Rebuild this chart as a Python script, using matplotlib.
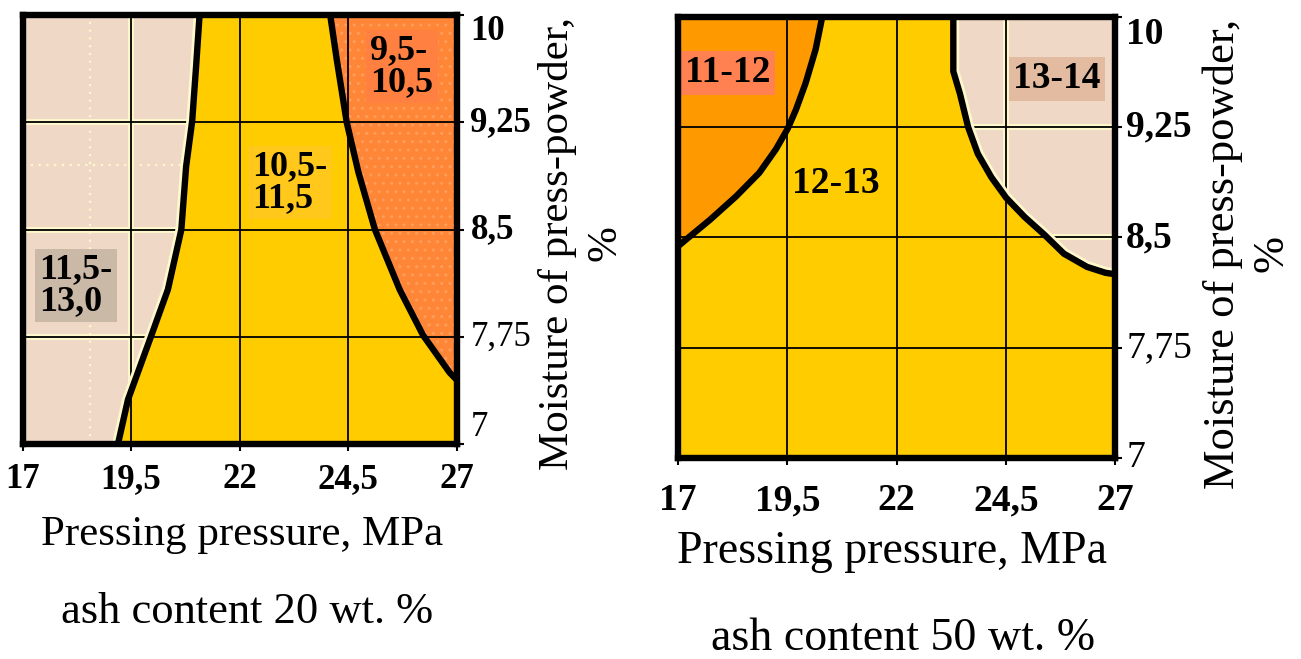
import matplotlib
matplotlib.use("Agg")
import matplotlib.pyplot as plt
from matplotlib.patches import Polygon

plt.rcParams["font.family"] = ["Liberation Serif", "DejaVu Serif"]

# ---- axis scales -------------------------------------------------------
pressure_ticks = [17, 19.5, 22, 24.5, 27]
pressure_labels = ["17", "19,5", "22", "24,5", "27"]
moisture_ticks = [7, 7.75, 8.5, 9.25, 10]
moisture_labels = ["7", "7,75", "8,5", "9,25", "10"]
moisture_bold = [False, False, True, True, True]

# ---- ash content 20 wt.% : region boundaries (pressure MPa, moisture %) --
ash20_low_press = [19.20, 19.43, 19.97, 20.35, 20.66, 20.77, 20.91, 21.00, 21.08]
ash20_low_moist = [7.00, 7.31, 7.76, 8.08, 8.50, 8.94, 9.26, 9.64, 10.00]
ash20_high_press = [24.09, 24.24, 24.47, 24.74, 25.12, 25.69, 26.23, 26.84, 27.00]
ash20_high_moist = [10.00, 9.69, 9.25, 8.90, 8.50, 8.08, 7.76, 7.50, 7.45]
ash20_region_text = ["11,5-\n13,0", "10,5-\n11,5", "9,5-\n10,5"]

# ---- ash content 50 wt.% : region boundaries ----------------------------
ash50_low_press = [20.30, 20.15, 19.92, 19.70, 19.51, 19.24, 18.86, 18.33, 17.73, 17.16, 17.00]
ash50_low_moist = [10.00, 9.78, 9.55, 9.37, 9.24, 9.10, 8.94, 8.78, 8.62, 8.48, 8.44]
ash50_high_press = [23.30, 23.30, 23.45, 23.64, 23.86, 24.17, 24.51, 24.93, 25.38,
                    25.83, 26.36, 26.78, 27.00]
ash50_high_moist = [10.00, 9.63, 9.48, 9.25, 9.07, 8.91, 8.77, 8.64, 8.52,
                    8.39, 8.30, 8.26, 8.25]
ash50_region_text = ["11-12", "12-13", "13-14"]

# ---- colours -------------------------------------------------------------
YELLOW = "#FFCC00"
BEIGE = "#EFD8C6"
CREAM = "#FFF8CC"
ORANGE_20 = "#FF8636"
ORANGE_50 = "#FF9900"

W, H = 1301, 659
fig = plt.figure(figsize=(W / 100, H / 100), dpi=100)


def box(left, top, right, bottom):
    return [left / W, 1 - bottom / H, (right - left) / W, (bottom - top) / H]


def fx(px):
    return px / W


def fy(py):
    return 1 - py / H


def setup_axes(ax, tick_size, xpad, ypad, ylab_va):
    ax.set_xlim(pressure_ticks[0], pressure_ticks[-1])
    ax.set_ylim(moisture_ticks[0], moisture_ticks[-1])
    ax.set_facecolor(YELLOW)
    ax.yaxis.tick_right()
    ax.set_xticks(pressure_ticks)
    ax.set_xticklabels(pressure_labels, fontsize=tick_size, fontweight="bold")
    ax.set_yticks(moisture_ticks)
    ax.set_yticklabels(moisture_labels, fontsize=tick_size)
    for lab, bold, va in zip(ax.get_yticklabels(), moisture_bold, ylab_va):
        lab.set_fontweight("bold" if bold else "normal")
        lab.set_va(va)
    ax.tick_params(axis="x", direction="out", length=5, width=1.5, pad=xpad)
    ax.tick_params(axis="y", direction="out", length=5, width=1.5, pad=ypad)
    for sp in ax.spines.values():
        sp.set_linewidth(4.6)
        sp.set_color("black")
        sp.set_zorder(6)


def grid_lines(ax, beige_patch, extra_dotted=()):
    # cream halo around the grid inside the beige zone
    for x in pressure_ticks[1:-1]:
        ln, = ax.plot([x, x], [7, 10], color=CREAM, lw=4.2, zorder=2.2)
        ln.set_clip_path(beige_patch)
    for y in moisture_ticks[1:-1]:
        ln, = ax.plot([17, 27], [y, y], color=CREAM, lw=4.2, zorder=2.2)
        ln.set_clip_path(beige_patch)
    for kind, v in extra_dotted:
        xs, ys = ([v, v], [7, 10]) if kind == "v" else ([17, 27], [v, v])
        ln, = ax.plot(xs, ys, color=CREAM, lw=1.6, ls=(0, (1, 2.5)), zorder=2.1)
        ln.set_clip_path(beige_patch)
    for x in pressure_ticks[1:-1]:
        ax.axvline(x, color="black", lw=1.3, zorder=3)
    for y in moisture_ticks[1:-1]:
        ax.axhline(y, color="black", lw=1.3, zorder=3)


def boundary(ax, press, moist, halo_clip):
    halo, = ax.plot(press, moist, color=CREAM, lw=8.5, zorder=3.5,
                    solid_joinstyle="round", solid_capstyle="round")
    halo.set_clip_path(halo_clip)
    ax.plot(press, moist, color="black", lw=4.6, zorder=4,
            solid_joinstyle="round", solid_capstyle="round")


def region_label(ax, x, y, text, size, face):
    ax.text(x, y, text, fontsize=size, fontweight="bold", ha="center", va="center",
            multialignment="left", linespacing=0.95, zorder=5,
            bbox=dict(boxstyle="square,pad=0.12", fc=face, ec="none"))


# ========================= ash content 20 wt.% ===========================
ax1 = fig.add_axes(box(22.5, 15, 456.5, 444))
setup_axes(ax1, 25, 9, 5, ["bottom", "center", "center", "center", "top"])

beige20 = Polygon([(17, 7)] + list(zip(ash20_low_press, ash20_low_moist)) + [(17, 10)],
                  closed=True, fc=BEIGE, ec=CREAM, lw=2.5, zorder=1)
ax1.add_patch(beige20)
orange20 = Polygon(list(zip(ash20_high_press, ash20_high_moist)) + [(27, 10)],
                   closed=True, fc=ORANGE_20, ec="none", zorder=1)
ax1.add_patch(orange20)
dots20 = Polygon(list(zip(ash20_high_press, ash20_high_moist)) + [(27, 10)],
                 closed=True, fill=False, ec="#FF9D5C", lw=0, hatch="..", zorder=1.1)
ax1.add_patch(dots20)

grid_lines(ax1, beige20, extra_dotted=[("v", 18.55), ("h", 8.95)])
boundary(ax1, ash20_low_press, ash20_low_moist, beige20)
boundary(ax1, ash20_high_press, ash20_high_moist, beige20)

region_label(ax1, 18.23, 8.11, ash20_region_text[0], 26, "#CBB9A7")
region_label(ax1, 23.16, 8.83, ash20_region_text[1], 26, "#FFC81A")
region_label(ax1, 25.74, 9.64, ash20_region_text[2], 26, "#FF8040")

fig.text(fx(242), fy(545), "Pressing pressure, MPa", fontsize=31,
         ha="center", va="baseline")
fig.text(fx(247), fy(623), "ash content 20 wt. %", fontsize=32,
         ha="center", va="baseline")
fig.text(fx(581), fy(243), "Moisture of press-powder,\n%", fontsize=31,
         rotation=90, ha="center", va="center", multialignment="center",
         linespacing=1.3)

# ========================= ash content 50 wt.% ===========================
ax2 = fig.add_axes(box(678, 17, 1115, 458))
setup_axes(ax2, 27, 13, 3, ["center", "center", "center", "center", "top"])

orange50 = Polygon(list(zip(ash50_low_press, ash50_low_moist)) + [(17, 10)],
                   closed=True, fc=ORANGE_50, ec="none", zorder=1)
ax2.add_patch(orange50)
beige50 = Polygon(list(zip(ash50_high_press, ash50_high_moist)) + [(27, 10)],
                  closed=True, fc=BEIGE, ec=CREAM, lw=2.5, zorder=1)
ax2.add_patch(beige50)

grid_lines(ax2, beige50)
boundary(ax2, ash50_low_press, ash50_low_moist, beige50)
boundary(ax2, ash50_high_press, ash50_high_moist, beige50)

region_label(ax2, 18.14, 9.62, ash50_region_text[0], 27, "#FF8050")
region_label(ax2, 20.62, 8.87, ash50_region_text[1], 27, YELLOW)
region_label(ax2, 25.67, 9.58, ash50_region_text[2], 27, "#E2BBA0")

fig.text(fx(892), fy(563), "Pressing pressure, MPa", fontsize=33,
         ha="center", va="baseline")
fig.text(fx(903), fy(650), "ash content 50 wt. %", fontsize=33,
         ha="center", va="baseline")
fig.text(fx(1247), fy(254), "Moisture of press-powder,\n%", fontsize=32,
         rotation=90, ha="center", va="center", multialignment="center",
         linespacing=1.25)

fig.savefig("out.png", dpi=100, facecolor="white")
